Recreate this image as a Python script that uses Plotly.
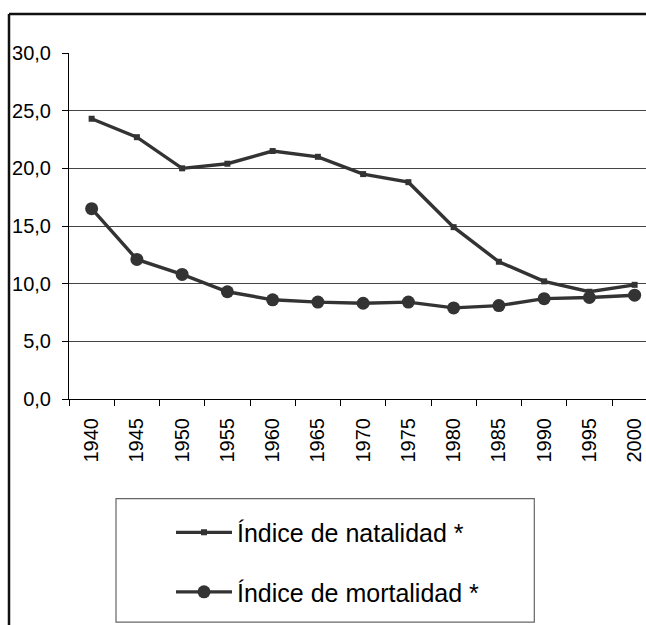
import plotly.graph_objects as go

years = ["1940", "1945", "1950", "1955", "1960", "1965", "1970",
         "1975", "1980", "1985", "1990", "1995", "2000"]
natalidad = [24.3, 22.7, 20.0, 20.4, 21.5, 21.0, 19.5, 18.8, 14.9, 11.9, 10.2, 9.3, 9.9]
mortalidad = [16.5, 12.1, 10.8, 9.3, 8.6, 8.4, 8.3, 8.4, 7.9, 8.1, 8.7, 8.8, 9.0]
series_names = ["Índice de natalidad *", "Índice de mortalidad *"]

W, H = 646, 625
L, T = 69, 53
B = H - 399.3
plot_w = W - L
plot_h = H - T - B
FONT = "Arial, Liberation Sans, sans-serif"
LINE_C = "#333333"


def px_x(p):
    return (p - L) / plot_w


def px_y(p):
    return (H - B - p) / plot_h


fig = go.Figure()
fig.add_trace(go.Scatter(
    x=years, y=natalidad, name=series_names[0], mode="lines+markers",
    line=dict(color=LINE_C, width=3.4),
    marker=dict(symbol="square", size=6, color=LINE_C),
    legendgroup="a"))
fig.add_trace(go.Scatter(
    x=years, y=mortalidad, name=series_names[1], mode="lines+markers",
    line=dict(color=LINE_C, width=3.4),
    marker=dict(symbol="circle", size=13, color=LINE_C),
    legendgroup="b"))

shapes = [
    # outer chart border (cropped at right/bottom)
    dict(type="line", xref="paper", yref="paper", x0=px_x(9), x1=px_x(W + 50),
         y0=px_y(14), y1=px_y(14), line=dict(color="#111", width=2.5)),
    dict(type="line", xref="paper", yref="paper", x0=px_x(9), x1=px_x(9),
         y0=px_y(14), y1=px_y(H + 50), line=dict(color="#111", width=2.5)),
    # legend box
    dict(type="rect", xref="paper", yref="paper", x0=px_x(116), x1=px_x(534.3),
         y0=px_y(622.7), y1=px_y(499), line=dict(color="#666", width=1.2)),
]

fig.update_layout(
    width=W, height=H,
    margin=dict(l=L, r=0, t=T, b=B, pad=0),
    paper_bgcolor="white", plot_bgcolor="white",
    separators=",.",
    font=dict(family=FONT, color="black", size=19),
    shapes=shapes,
    showlegend=True,
    legend=dict(
        x=px_x(171), y=px_y(510), xanchor="left", yanchor="top",
        font=dict(family=FONT, size=25, color="black"),
        bgcolor="rgba(0,0,0,0)", borderwidth=0,
        traceorder="grouped", tracegroupgap=24, itemwidth=56,
    ),
    xaxis=dict(
        type="category", range=[-0.5, -0.5 + plot_w / 45.25],
        showline=True, linecolor="black", linewidth=1,
        ticks="outside", tickson="boundaries", ticklen=6, tickcolor="black",
        tickangle=-90, tickfont=dict(family=FONT, size=20, color="black"),
        showgrid=False, zeroline=False, fixedrange=True, ticklabelstandoff=10,
    ),
    yaxis=dict(
        range=[0, 30], dtick=5, tick0=0, tickformat=".1f",
        showline=True, linecolor="black", linewidth=1,
        ticks="outside", ticklen=6, tickcolor="black",
        tickfont=dict(family=FONT, size=20, color="black"),
        showgrid=True, gridcolor="#444444", gridwidth=1,
        zeroline=False, fixedrange=True, ticklabelstandoff=7,
    ),
)

fig.write_html(
    "out.html",
    config={"displayModeBar": False},
    post_script="document.body.style.margin='0';document.body.style.overflow='hidden';",
)
